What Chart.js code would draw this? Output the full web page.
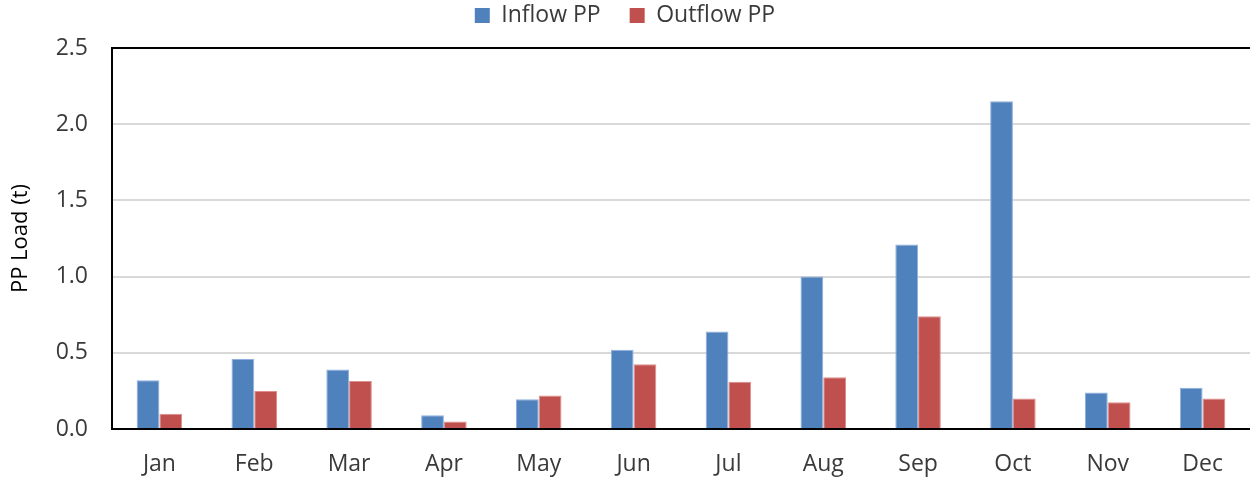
<!DOCTYPE html>
<html>
<head>
<meta charset="utf-8">
<script src="https://cdn.jsdelivr.net/npm/chart.js@4"></script>
<style>
  body { margin: 0; background: #fff; }
  #wrap { width: 1250px; height: 478px; }
</style>
</head>
<body>
<div id="wrap"><canvas id="pp-chart" width="1250" height="478"></canvas></div>
<script>
// Données
const months = ['Jan', 'Feb', 'Mar', 'Apr', 'May', 'Jun', 'Jul', 'Aug', 'Sep', 'Oct', 'Nov', 'Dec'];
const inflowPP = [0.32, 0.46, 0.39, 0.09, 0.195, 0.52, 0.64, 1.0, 1.21, 2.15, 0.24, 0.27];
const outflowPP = [0.10, 0.25, 0.315, 0.05, 0.22, 0.425, 0.31, 0.34, 0.74, 0.20, 0.175, 0.20];
const yTicks = [0, 0.5, 1.0, 1.5, 2.0, 2.5];

const textColor = '#3a3a3a';
const font = { family: 'Open Sans', size: 23 };

// Hauteur fixe pour la légende, puis on la remonte
const legendHeight = {
  id: 'legendHeight',
  beforeInit(chart) {
    const fit = chart.legend.fit;
    chart.legend.fit = function () {
      fit.call(this);
      this.height = 48;
    };
  },
  beforeDraw(chart) {
    chart.legend.top = -25;
  }
};

const ctx = document.getElementById('pp-chart').getContext('2d');
new Chart(ctx, {
  type: 'bar',
  data: {
    labels: months,
    datasets: [
      {
        label: 'Inflow PP',
        data: inflowPP,
        backgroundColor: '#4F81BD',
        borderColor: '#8fb0dc',
        borderWidth: 1
      },
      {
        label: 'Outflow PP',
        data: outflowPP,
        backgroundColor: '#C0504D',
        borderColor: '#dc8f8d',
        borderWidth: 1
      }
    ]
  },
  options: {
    responsive: false,
    animation: false,
    layout: { padding: 0 },
    datasets: {
      bar: { categoryPercentage: 0.48, barPercentage: 1.0 }
    },
    plugins: {
      legend: {
        position: 'top',
        labels: {
          color: textColor,
          font: font,
          boxWidth: 15,
          boxHeight: 15,
          padding: 29,
          generateLabels(chart) {
            return chart.data.datasets.map((ds, i) => ({
              text: ds.label,
              fillStyle: ds.backgroundColor,
              strokeStyle: ds.backgroundColor,
              lineWidth: 0,
              fontColor: textColor,
              datasetIndex: i
            }));
          }
        }
      },
      tooltip: { enabled: false }
    },
    scales: {
      x: {
        grid: { display: false, drawTicks: false },
        border: { display: true, color: '#000', width: 2 },
        ticks: { color: textColor, font: font, padding: 22, maxRotation: 0 },
        afterFit(scale) { scale.height = 49; }
      },
      y: {
        min: 0,
        max: 2.5,
        afterBuildTicks(scale) {
          scale.ticks = yTicks.map(v => ({ value: v }));
        },
        grid: {
          drawTicks: false,
          lineWidth: 2,
          color: c => (c.tick && c.tick.value === 2.5 ? '#000' : '#d9d9d9')
        },
        border: { display: true, color: '#000', width: 2 },
        ticks: {
          color: textColor,
          font: font,
          padding: 24,
          callback: v => Number(v).toFixed(1)
        },
        title: {
          display: true,
          text: 'PP Load (t)',
          color: '#000',
          font: { family: 'Open Sans', size: 22 },
          padding: { top: 8, bottom: 0 }
        },
        afterFit(scale) { scale.width = 112; }
      }
    }
  },
  plugins: [legendHeight]
});
</script>
</body>
</html>
